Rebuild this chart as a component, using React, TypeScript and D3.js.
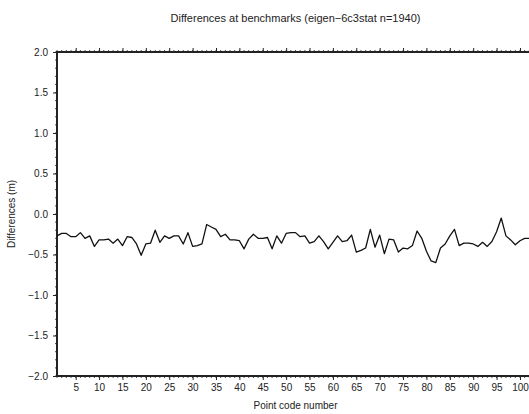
import React, { useRef, useEffect } from "react";
import * as d3 from "d3";

// differences (m) at each benchmark point, point code 1..102
const pointCodes: number[] = d3.range(1, 103);
const differences: number[] = [
  -0.27, -0.24, -0.24, -0.28, -0.28, -0.23, -0.3, -0.27, -0.4, -0.32,
  -0.32, -0.31, -0.36, -0.31, -0.39, -0.28, -0.29, -0.37, -0.51, -0.37,
  -0.36, -0.2, -0.35, -0.27, -0.3, -0.27, -0.27, -0.37, -0.23, -0.4,
  -0.39, -0.37, -0.13, -0.16, -0.19, -0.28, -0.25, -0.32, -0.32, -0.33,
  -0.43, -0.31, -0.25, -0.3, -0.3, -0.29, -0.43, -0.27, -0.36, -0.24,
  -0.23, -0.23, -0.28, -0.27, -0.36, -0.34, -0.27, -0.34, -0.43, -0.35,
  -0.27, -0.34, -0.33, -0.26, -0.47, -0.45, -0.42, -0.19, -0.41, -0.26,
  -0.49, -0.31, -0.32, -0.47, -0.42, -0.43, -0.39, -0.21, -0.3, -0.46,
  -0.58, -0.6, -0.42, -0.37, -0.27, -0.19, -0.39, -0.36, -0.36, -0.37,
  -0.4, -0.35, -0.4, -0.34, -0.22, -0.05, -0.27, -0.32, -0.38, -0.33,
  -0.3, -0.3,
];
const xTicks: number[] = d3.range(5, 101, 5);
const yTicks: number[] = [-2, -1.5, -1, -0.5, 0, 0.5, 1, 1.5, 2];

function App() {
  const svgRef = useRef<SVGSVGElement>(null);

  useEffect(() => {
    const svg = d3.select(svgRef.current);
    svg.selectAll("*").remove();
    const margin = { left: 57, right: -5, top: 52, bottom: 38 };
    const width = 529;
    const height = 414;
    const font = "Liberation Sans, Helvetica, Arial, sans-serif";

    const x = d3
      .scaleLinear()
      .domain([1, 103])
      .range([margin.left, width - margin.right]);
    const y = d3
      .scaleLinear()
      .domain([-2, 2])
      .range([height - margin.bottom, margin.top]);

    const [x0, x1] = x.range();
    const [yb, yt] = y.range();

    // minor ticks
    const minorX = d3.range(1, 104, 1);
    const minorY = d3.range(-2, 2.0001, 0.1);
    const g = svg.append("g").attr("stroke", "#222").attr("stroke-width", 0.8);
    minorX.forEach((v) => {
      g.append("line").attr("x1", x(v)).attr("x2", x(v)).attr("y1", yb).attr("y2", yb + 2);
      g.append("line").attr("x1", x(v)).attr("x2", x(v)).attr("y1", yt).attr("y2", yt - 2);
    });
    minorY.forEach((v) => {
      g.append("line").attr("x1", x0).attr("x2", x0 - 2).attr("y1", y(v)).attr("y2", y(v));
    });

    // bottom axis
    const bottom = svg
      .append("g")
      .attr("transform", `translate(0,${yb})`)
      .call(d3.axisBottom(x).tickValues(xTicks).tickSize(4).tickPadding(4));
    bottom.select(".domain").remove();
    bottom.selectAll("line").attr("stroke", "#222");
    bottom.selectAll("text").attr("font-size", 10).attr("font-family", font).attr("fill", "#222");

    // top ticks
    const top = svg
      .append("g")
      .attr("transform", `translate(0,${yt})`)
      .call(d3.axisTop(x).tickValues(xTicks).tickSize(4).tickFormat(() => ""));
    top.select(".domain").remove();
    top.selectAll("line").attr("stroke", "#222");

    // left axis
    const left = svg
      .append("g")
      .attr("transform", `translate(${x0},0)`)
      .call(d3.axisLeft(y).tickValues(yTicks).tickSize(4).tickPadding(5).tickFormat(d3.format(".1f")));
    left.select(".domain").remove();
    left.selectAll("line").attr("stroke", "#222");
    left
      .selectAll("text")
      .text((d: any) => d3.format(".1f")(d).replace("-", "\u2212"))
      .attr("font-size", 10)
      .attr("font-family", font)
      .attr("fill", "#222");

    // frame
    svg
      .append("rect")
      .attr("x", x0)
      .attr("y", yt)
      .attr("width", x1 - x0)
      .attr("height", yb - yt)
      .attr("fill", "none")
      .attr("stroke", "#222")
      .attr("stroke-width", 2);

    // data line
    const line = d3
      .line<number>()
      .x((_, i) => x(pointCodes[i]))
      .y((d) => y(d));
    svg
      .append("path")
      .datum(differences)
      .attr("d", line)
      .attr("fill", "none")
      .attr("stroke", "#111")
      .attr("stroke-width", 1.3)
      .attr("stroke-linejoin", "round");

    // titles
    const cx = (x0 + x1) / 2;
    svg
      .append("text")
      .attr("x", cx)
      .attr("y", 22)
      .attr("text-anchor", "middle")
      .attr("font-size", 11)
      .attr("font-family", font)
      .attr("fill", "#222")
      .text("Differences at benchmarks (eigen\u22126c3stat n=1940)");
    svg
      .append("text")
      .attr("x", cx)
      .attr("y", 409)
      .attr("text-anchor", "middle")
      .attr("font-size", 10)
      .attr("font-family", font)
      .attr("fill", "#222")
      .text("Point code number");
    svg
      .append("text")
      .attr("transform", `translate(15,${(yt + yb) / 2}) rotate(-90)`)
      .attr("text-anchor", "middle")
      .attr("font-size", 10)
      .attr("font-family", font)
      .attr("fill", "#222")
      .text("Differences (m)");
  }, []);

  return (
    <svg
      ref={svgRef}
      width={529}
      height={414}
      style={{ position: "absolute", left: 0, top: 0, background: "#fff" }}
    ></svg>
  );
}

export default App;
